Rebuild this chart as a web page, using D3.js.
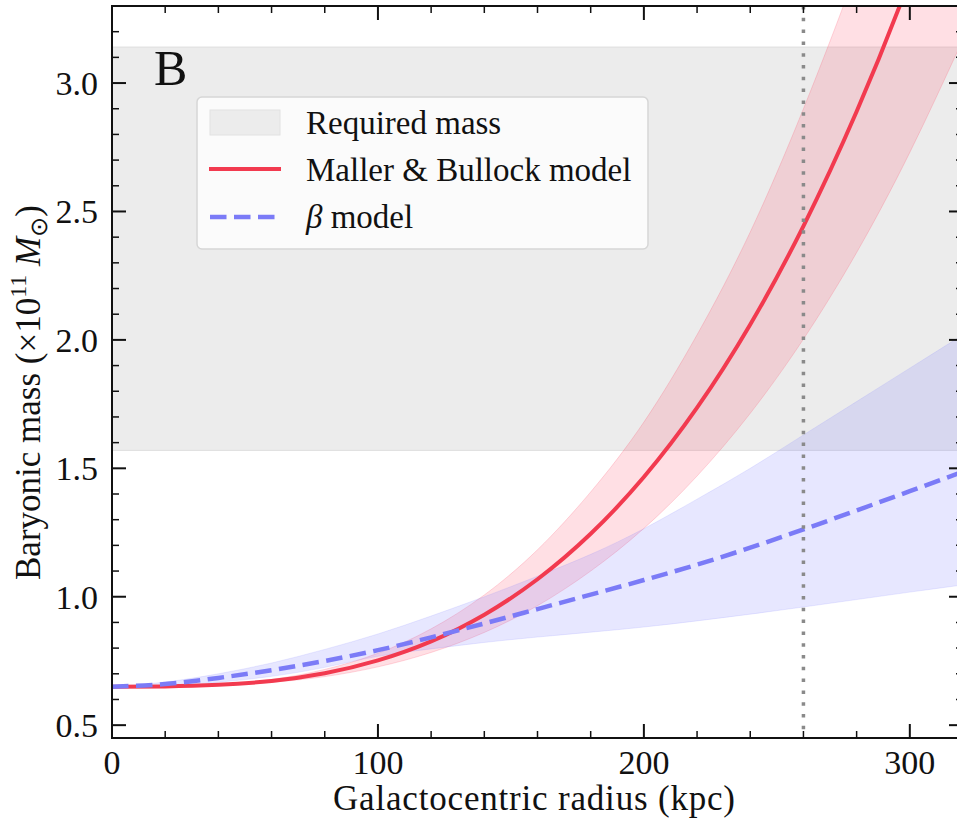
<!DOCTYPE html>
<html>
<head>
<meta charset="utf-8">
<script src="https://d3js.org/d3.v7.min.js"></script>
<style>
  body { margin: 0; background: #fff; }
  svg text { font-family: "Liberation Serif", "Times New Roman", serif; fill: #111; }
</style>
</head>
<body>
<div id="chart"></div>
<script>
// galactocentric radius grid (kpc)
var radius = [0, 20, 40, 60, 80, 100, 120, 140, 160, 180, 200, 220, 240, 260, 280, 300, 320];

// Maller & Bullock model (x1e11 Msun)
var mbMass = [0.650, 0.651, 0.657, 0.672, 0.702, 0.752, 0.826, 0.930, 1.068, 1.245, 1.466, 1.736, 2.060, 2.443, 2.889, 3.404, 3.990];
var mbHigh = [0.650, 0.651, 0.658, 0.678, 0.717, 0.780, 0.875, 1.007, 1.183, 1.408, 1.680, 2.020, 2.420, 2.900, 3.440, 4.050, 4.750];
var mbLow  = [0.650, 0.650, 0.655, 0.667, 0.689, 0.727, 0.783, 0.861, 0.965, 1.100, 1.266, 1.470, 1.714, 2.003, 2.340, 2.730, 3.170];

// beta model
var betaMass = [0.650, 0.660, 0.684, 0.714, 0.750, 0.792, 0.842, 0.896, 0.952, 1.008, 1.065, 1.125, 1.191, 1.262, 1.336, 1.411, 1.487];
var betaHigh = [0.650, 0.668, 0.700, 0.742, 0.795, 0.855, 0.925, 1.000, 1.080, 1.165, 1.265, 1.380, 1.500, 1.630, 1.760, 1.890, 2.020];
var betaLow  = [0.650, 0.654, 0.667, 0.690, 0.725, 0.768, 0.797, 0.822, 0.843, 0.862, 0.882, 0.906, 0.932, 0.960, 0.989, 1.018, 1.046];

// required mass band and virial radius marker
var requiredMass = [1.57, 3.14];
var virialRadius = 260;

var xTicks = [0, 100, 200, 300];
var yTicks = [0.5, 1.0, 1.5, 2.0, 2.5, 3.0];
var legendLabels = ["Required mass", "Maller & Bullock model", "model"];

var width = 957, height = 825;
var margin = {top: 6, right: -6, bottom: 87, left: 112};
var w = width - margin.left - margin.right;
var h = height - margin.top - margin.bottom;

var svg = d3.select("#chart").append("svg")
  .attr("width", width).attr("height", height);

var x = d3.scaleLinear().domain([0, 320]).range([0, w]);
var y = d3.scaleLinear().domain([0.45, 3.3]).range([h, 0]);

svg.append("defs").append("clipPath").attr("id", "clip")
  .append("rect").attr("width", w).attr("height", h);

var g = svg.append("g").attr("transform", "translate(" + margin.left + "," + margin.top + ")");
var plot = g.append("g").attr("clip-path", "url(#clip)");

// required mass band
plot.append("rect")
  .attr("x", 0).attr("width", w)
  .attr("y", y(requiredMass[1]))
  .attr("height", y(requiredMass[0]) - y(requiredMass[1]))
  .attr("fill", "#ececec").attr("stroke", "#dddddd").attr("stroke-width", 1);

var pts = function(arr) { return radius.map(function(r, i) { return [r, arr[i]]; }); };
var band = function(lo, hi) {
  return d3.area().curve(d3.curveNatural)
    .x(function(d, i) { return x(radius[i]); })
    .y0(function(d, i) { return y(lo[i]); })
    .y1(function(d, i) { return y(hi[i]); })(radius);
};
var line = d3.line().curve(d3.curveNatural)
  .x(function(d) { return x(d[0]); }).y(function(d) { return y(d[1]); });

// Maller & Bullock band
plot.append("path").attr("d", band(mbLow, mbHigh))
  .attr("fill", "rgb(255,64,96)").attr("fill-opacity", 0.17)
  .attr("stroke", "rgb(255,64,96)").attr("stroke-opacity", 0.2).attr("stroke-width", 1);

// beta band
plot.append("path").attr("d", band(betaLow, betaHigh))
  .attr("fill", "rgb(120,120,255)").attr("fill-opacity", 0.18)
  .attr("stroke", "rgb(120,120,255)").attr("stroke-opacity", 0.15).attr("stroke-width", 1);

plot.append("path").attr("d", line(pts(mbMass)))
  .attr("fill", "none").attr("stroke", "#f23a4f").attr("stroke-width", 4);

plot.append("path").attr("d", line(pts(betaMass)))
  .attr("fill", "none").attr("stroke", "#7b7bf7").attr("stroke-width", 4.5)
  .attr("stroke-dasharray", "16.5,7.5");

// virial radius marker
plot.append("line")
  .attr("x1", x(virialRadius)).attr("x2", x(virialRadius))
  .attr("y1", 0).attr("y2", h)
  .attr("stroke", "#8a8a8a").attr("stroke-width", 3.5)
  .attr("stroke-dasharray", "3.5,8.3");

// ticks on all four sides, pointing in
function ticks(vals, len, sw) {
  vals.forEach(function(v) {
    g.append("line").attr("x1", x(v)).attr("x2", x(v)).attr("y1", h).attr("y2", h - len)
      .attr("stroke", "#111").attr("stroke-width", sw);
    g.append("line").attr("x1", x(v)).attr("x2", x(v)).attr("y1", 0).attr("y2", len)
      .attr("stroke", "#111").attr("stroke-width", sw);
  });
}
function yticks(vals, len, sw) {
  vals.forEach(function(v) {
    g.append("line").attr("x1", 0).attr("x2", len).attr("y1", y(v)).attr("y2", y(v))
      .attr("stroke", "#111").attr("stroke-width", sw);
    g.append("line").attr("x1", w).attr("x2", w - len).attr("y1", y(v)).attr("y2", y(v))
      .attr("stroke", "#111").attr("stroke-width", sw);
  });
}
ticks(d3.range(0, 321, 20).filter(function(v) { return v % 100 !== 0; }), 7, 1.5);
ticks(xTicks, 14, 2);
yticks(d3.range(5, 33).map(function(v) { return v / 10; }).filter(function(v) { return Math.round(v * 10) % 5 !== 0; }), 7, 1.5);
yticks(yTicks, 14, 2);

// frame
g.append("rect").attr("width", w).attr("height", h)
  .attr("fill", "none").attr("stroke", "#111").attr("stroke-width", 2);

// tick labels
g.selectAll(".xl").data(xTicks).enter().append("text")
  .attr("x", function(d) { return x(d); }).attr("y", h + 36)
  .attr("text-anchor", "middle").attr("font-size", 34)
  .text(function(d) { return d; });
g.selectAll(".yl").data(yTicks).enter().append("text")
  .attr("x", -14).attr("y", function(d) { return y(d); }).attr("dy", "0.35em")
  .attr("text-anchor", "end").attr("font-size", 34)
  .text(function(d) { return d3.format(".1f")(d); });

// axis titles
svg.append("text").attr("x", 333).attr("y", 810)
  .attr("font-size", 35).attr("textLength", 402).attr("lengthAdjust", "spacing")
  .text("Galactocentric radius (kpc)");

var yl = svg.append("text")
  .attr("transform", "translate(40,580) rotate(-90)")
  .attr("font-size", 35);
yl.append("tspan").text("Baryonic mass (\u00d710");
yl.append("tspan").attr("font-size", 24).attr("dy", -14).text("11");
yl.append("tspan").attr("dy", 14).text(" ");
yl.append("tspan").attr("font-style", "italic").text("M");
yl.append("tspan").attr("font-size", 24).attr("dy", 7).text("\u2299");
yl.append("tspan").attr("dy", -7).text(")");

// panel letter
g.append("text").attr("x", 42).attr("y", 79).attr("font-size", 50).text("B");

// legend
var lg = svg.append("g").attr("transform", "translate(197,97)");
lg.append("rect").attr("width", 451).attr("height", 152).attr("rx", 5)
  .attr("fill", "#ffffff").attr("fill-opacity", 0.8)
  .attr("stroke", "#d6d6d6").attr("stroke-width", 1.5);
lg.append("rect").attr("x", 13).attr("y", 13).attr("width", 70).attr("height", 25)
  .attr("fill", "#ececec").attr("stroke", "#e2e2e2");
lg.append("line").attr("x1", 12).attr("x2", 84).attr("y1", 72).attr("y2", 72)
  .attr("stroke", "#f23a4f").attr("stroke-width", 4);
lg.append("line").attr("x1", 13).attr("x2", 84).attr("y1", 120).attr("y2", 120)
  .attr("stroke", "#7b7bf7").attr("stroke-width", 4.5).attr("stroke-dasharray", "16.5,7.5");
lg.append("text").attr("x", 109).attr("y", 37).attr("font-size", 33).text(legendLabels[0]);
lg.append("text").attr("x", 109).attr("y", 84).attr("font-size", 33).text(legendLabels[1]);
var bt = lg.append("text").attr("x", 109).attr("y", 131).attr("font-size", 33);
bt.append("tspan").attr("font-style", "italic").text("\u03b2");
bt.append("tspan").text(" " + legendLabels[2]);
</script>
</body>
</html>
